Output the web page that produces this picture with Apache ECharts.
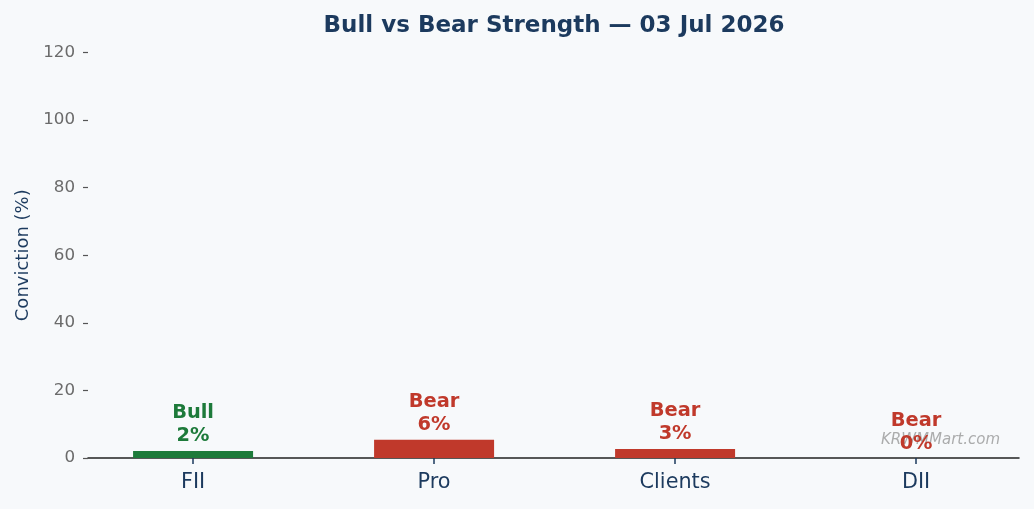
<!DOCTYPE html>
<html>
<head>
<meta charset="utf-8">
<style>
  html, body { margin: 0; padding: 0; background: #f7f9fb; }
  #myChart { width: 1034px; height: 509px; }
</style>
<script src="https://cdn.jsdelivr.net/npm/echarts@6/dist/echarts.min.js"></script>
</head>
<body>
<div id="myChart"></div>
<script>
// data
const categories = ['FII', 'Pro', 'Clients', 'DII']
const values = [2.1, 5.4, 2.7, 0]
const sides = ['Bull', 'Bear', 'Bear', 'Bear']
const pctLabels = ['2%', '6%', '3%', '0%']

const GREEN = '#1d7a3a'
const RED = '#c0392b'
const NAVY = '#1c3a5e'
const FONT = 'DejaVu Sans'

let myChart = echarts.init(document.getElementById('myChart'))

myChart.setOption({
  backgroundColor: '#f7f9fb',
  textStyle: { fontFamily: FONT },
  title: {
    text: 'Bull vs Bear Strength — 03 Jul 2026',
    left: 549,
    textAlign: 'center',
    top: 10,
    textStyle: { fontSize: 23, fontWeight: 'bold', color: NAVY, fontFamily: FONT }
  },
  grid: { left: 88, right: 15, top: 52.5, bottom: 51, containLabel: false },
  xAxis: {
    type: 'value',
    min: -0.436,
    max: 3.427,
    splitLine: { show: false },
    axisLine: { show: true, onZero: false, lineStyle: { color: '#222', width: 1.5 } },
    axisTick: {
      show: true,
      customValues: [0, 1, 2, 3],
      length: 6,
      lineStyle: { color: NAVY, width: 1.5 }
    },
    axisLabel: {
      customValues: [0, 1, 2, 3],
      formatter: v => categories[Math.round(v)],
      fontSize: 20.8,
      fontFamily: FONT,
      color: NAVY,
      margin: 14
    }
  },
  yAxis: {
    type: 'value',
    min: 0,
    max: 120,
    interval: 20,
    name: 'Conviction (%)',
    nameLocation: 'middle',
    nameGap: 55,
    nameTextStyle: { fontSize: 18, color: NAVY, fontFamily: FONT },
    splitLine: { show: false },
    axisLine: { show: false, onZero: false },
    axisTick: { show: true, length: 5, lineStyle: { color: '#555', width: 1.2 } },
    axisLabel: { fontSize: 16.7, color: '#6b6b6b', margin: 13, fontFamily: FONT }
  },
  graphic: [{
    type: 'text',
    right: 34,
    top: 433,
    z: 1,
    style: {
      text: 'KRWMMart.com',
      fontSize: 15,
      fontStyle: 'italic',
      fontFamily: FONT,
      fill: 'rgba(120,120,120,0.6)'
    }
  }],
  series: [{
    type: 'bar',
    barWidth: 120,
    z: 3,
    data: values.map((v, i) => ({
      value: [i, v],
      itemStyle: { color: sides[i] === 'Bull' ? GREEN : RED },
      label: {
        show: true,
        position: 'top',
        distance: 3,
        formatter: sides[i] + '\n' + pctLabels[i],
        fontSize: 19.4,
        fontWeight: 'bold',
        fontFamily: FONT,
        lineHeight: 23,
        color: sides[i] === 'Bull' ? GREEN : RED
      }
    }))
  }]
})
</script>
</body>
</html>
